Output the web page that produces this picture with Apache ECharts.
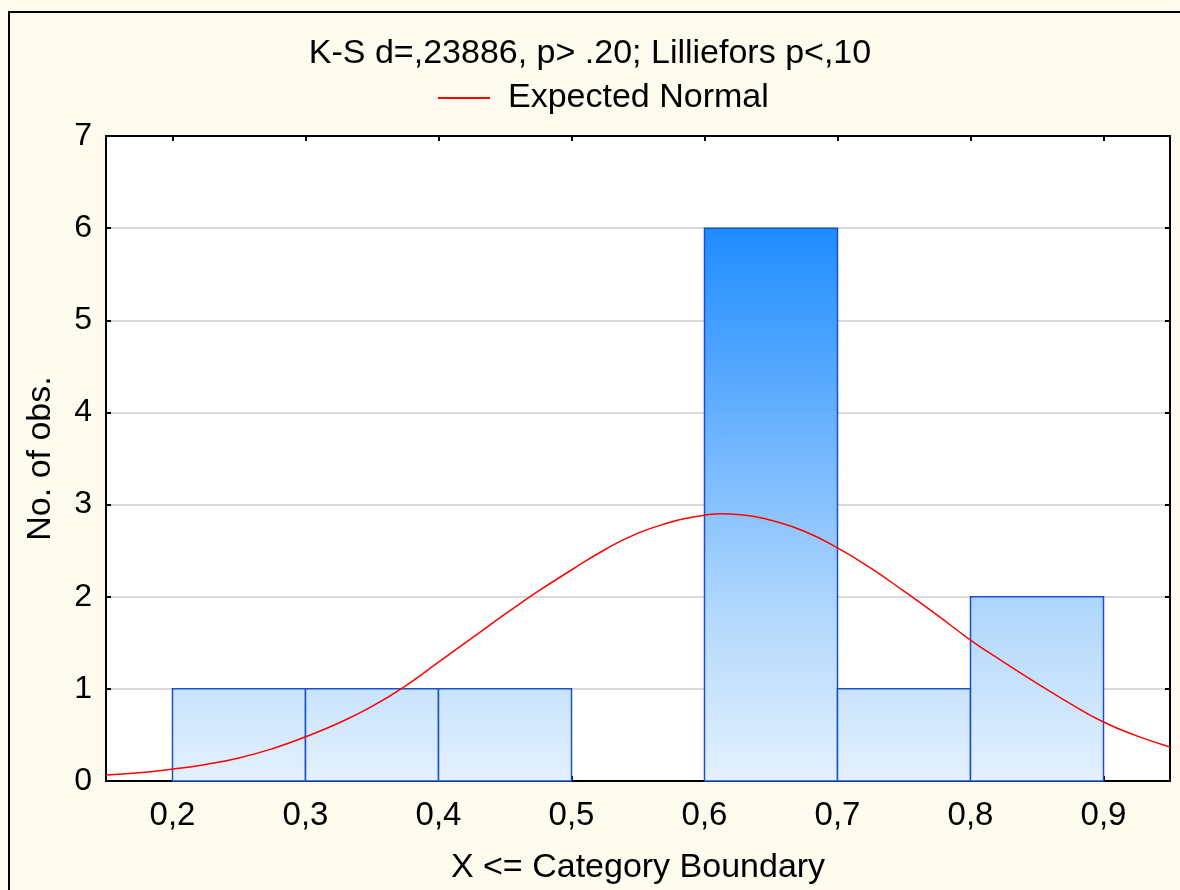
<!DOCTYPE html>
<html><head><meta charset="utf-8">
<script src="https://cdn.jsdelivr.net/npm/echarts@6/dist/echarts.min.js"></script>
<style>html,body{margin:0;padding:0;background:#fefaee;}#c{width:1180px;height:890px;}</style>
</head><body><div id="c"></div>
<script>
// Histogram bins
const binStart = [0.2, 0.3, 0.4, 0.5, 0.6, 0.7, 0.8];
const binEnd   = [0.3, 0.4, 0.5, 0.6, 0.7, 0.8, 0.9];
const counts   = [1, 1, 1, 0, 6, 1, 2];
// Expected normal curve
const curveX = [0.15,0.175,0.2,0.225,0.25,0.275,0.3,0.325,0.35,0.375,0.4,0.425,0.45,0.475,0.5,0.525,0.55,0.575,0.5875,0.6,0.6125,0.625,0.6375,0.65,0.675,0.7,0.725,0.75,0.775,0.8,0.825,0.85,0.875,0.9,0.925,0.95];
const curveY = [0.065,0.09,0.13,0.18,0.25,0.35,0.48,0.63,0.81,1.03,1.29,1.55,1.81,2.06,2.29,2.51,2.69,2.81,2.855,2.885,2.90,2.893,2.87,2.83,2.71,2.53,2.31,2.06,1.80,1.53,1.29,1.06,0.84,0.64,0.49,0.37];
const xTicks = [0.2,0.3,0.4,0.5,0.6,0.7,0.8,0.9];
const titleText = 'K-S d=,23886, p> .20; Lilliefors p<,10';

const FONT = '"Liberation Sans", Arial, sans-serif';
const chart = echarts.init(document.getElementById('c'), null, {renderer:'canvas'});
const axisLineStyle = {color:'#000', width:2};
const tickStyle = {show:true, inside:true, length:5, lineStyle:{color:'#000', width:2}};

chart.setOption({
  backgroundColor:'#fefaee',
  animation:false,
  graphic:[{type:'rect', shape:{x:9, y:12, width:1200, height:900}, style:{fill:null, stroke:'#000', lineWidth:2}, silent:true, z:-1}],
  title:{text:titleText, left:'center', top:32, textStyle:{fontFamily:FONT, fontSize:34, fontWeight:'normal', color:'#000'}},
  legend:{top:76, left:433, itemWidth:52, itemHeight:2, itemGap:10,
    textStyle:{fontFamily:FONT, fontSize:34, color:'#000', padding:[0,0,0,13]},
    data:[{name:'Expected Normal', icon:'rect', itemStyle:{color:'#ff0000'}}]},
  grid:{left:106, top:136, right:10, bottom:109, show:true, backgroundColor:'#fff', borderColor:'#000', borderWidth:0},
  xAxis:[{
    type:'value', min:0.15, max:0.95, position:'bottom',
    name:'X <= Category Boundary', nameLocation:'middle', nameGap:70,
    nameTextStyle:{fontFamily:FONT, fontSize:34, color:'#000'},
    axisLine:{show:true, onZero:false, lineStyle:axisLineStyle},
    axisTick:Object.assign({customValues:xTicks}, tickStyle),
    axisLabel:{customValues:xTicks, margin:18, fontFamily:FONT, fontSize:33, color:'#000',
      formatter:v=>v.toFixed(1).replace('.',',')},
    splitLine:{show:false}
  },{
    type:'value', min:0.15, max:0.95, position:'top',
    axisLine:{show:true, onZero:false, lineStyle:axisLineStyle},
    axisTick:Object.assign({customValues:xTicks}, tickStyle),
    axisLabel:{show:false}, splitLine:{show:false}
  }],
  yAxis:[{
    type:'value', min:0, max:7, interval:1, position:'left',
    name:'No. of obs.', nameLocation:'middle', nameGap:48,
    nameTextStyle:{fontFamily:FONT, fontSize:34, color:'#000'},
    axisLine:{show:true, onZero:false, lineStyle:axisLineStyle},
    axisTick:tickStyle,
    axisLabel:{margin:14, fontFamily:FONT, fontSize:32, color:'#000'},
    splitLine:{show:true, lineStyle:{color:'#d9d9d9', width:2}}
  },{
    type:'value', min:0, max:7, interval:1, position:'right',
    axisLine:{show:true, onZero:false, lineStyle:axisLineStyle},
    axisTick:tickStyle, axisLabel:{show:false}, splitLine:{show:false}
  }],
  series:[{
    type:'custom', name:'hist', xAxisIndex:0, yAxisIndex:0,
    data: binStart.map((s,i)=>[s, binEnd[i], counts[i]]),
    encode:{x:[0,1], y:2},
    renderItem:function(params, api){
      const c = api.value(2);
      if(!c) return null;
      const p1 = api.coord([api.value(0), c]);
      const p2 = api.coord([api.value(1), 0]);
      const yTop = api.coord([0.15, 6])[1];
      const yBot = api.coord([0.15, 0])[1];
      const grad = new echarts.graphic.LinearGradient(0, yTop, 0, yBot, [
        {offset:0, color:'#1e8cff'},
        {offset:0.45, color:'#7dbcff'},
        {offset:0.7, color:'#b2d8fc'},
        {offset:1, color:'#e4f1fe'}
      ], true);
      return {type:'rect', shape:{x:p1[0], y:p1[1], width:p2[0]-p1[0], height:p2[1]-p1[1]},
        style:{fill:grad, stroke:'#1a50cc', lineWidth:1.5}};
    },
    z:2
  },{
    type:'line', name:'Expected Normal', xAxisIndex:0, yAxisIndex:0,
    data: curveX.map((x,i)=>[x, curveY[i]]),
    smooth:true, symbol:'none', showSymbol:false,
    lineStyle:{color:'#ff0000', width:1.5}, itemStyle:{color:'#ff0000'},
    z:3
  }]
});
</script></body></html>
